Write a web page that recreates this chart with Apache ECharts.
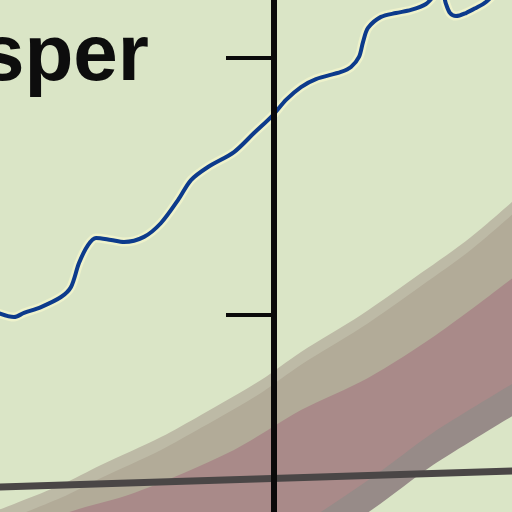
<!DOCTYPE html>
<html>
<head>
<meta charset="utf-8">
<script src="https://cdn.jsdelivr.net/npm/echarts@6.0.0/dist/echarts.min.js"></script>
<style>
  html, body { margin: 0; padding: 0; background: #dae5c6; }
  #main { width: 512px; height: 512px; }
</style>
</head>
<body>
<div id="main"></div>
<script>
// values: x = distance from the vertical axis, y on the axis scale (ticks at 10 and 20)
var yTicks = [10, 20];

// blue line
var blueLine = [
  [-276, 10.08], [-260, 9.92], [-250, 10.08], [-233, 10.31], [-213, 10.70], [-203, 11.09],
  [-195, 12.02], [-186, 12.72], [-178, 13.00], [-163, 12.92], [-150, 12.84], [-130, 13.04],
  [-113, 13.58], [-96, 14.47], [-83, 15.25], [-66, 15.76], [-40, 16.34], [-20, 17.08],
  [-1, 17.78], [12, 18.37], [27, 18.87], [42, 19.18], [67, 19.46], [77, 19.65],
  [85, 20.04], [89, 20.62], [94, 21.17], [107, 21.60], [122, 21.75], [137, 21.87],
  [152, 22.10], [162, 22.49], [168, 22.56], [172, 22.10], [176, 21.75], [182, 21.63],
  [192, 21.75], [202, 21.95], [212, 22.18], [222, 22.57]
];

// band: upper edge, inner tan edge, pink core, lower grey fringe, lower edge
var bandUpper = [
  [-276, 2.41], [-213, 3.39], [-173, 4.16], [-113, 5.25], [-73, 6.11], [-13, 7.47],
  [27, 8.56], [87, 10.00], [147, 11.63], [197, 13.04], [240, 14.47]
];
var bandTan = [
  [-276, 1.91], [-213, 2.89], [-173, 3.66], [-113, 4.75], [-73, 5.61], [-13, 6.97],
  [27, 8.06], [87, 9.50], [147, 11.13], [197, 12.54], [240, 13.97]
];
var bandPink = [
  [-276, 1.05], [-213, 2.22], [-140, 3.07], [-40, 4.75], [27, 6.30], [94, 7.55],
  [162, 9.22], [240, 11.48]
];
var bandFringe = [
  [-276, -5.98], [-73, -0.77], [99, 3.71], [159, 5.42], [240, 7.36]
];
var bandLower = [
  [-276, -7.24], [-73, -2.02], [99, 2.45], [159, 4.16], [240, 6.11]
];

// dark horizontal reference line
var baseLine = [[-276, 3.31], [240, 3.93]];

var myChart = echarts.init(document.getElementById('main'));

function bandLayer(data, color) {
  return {
    type: 'line',
    data: data,
    smooth: 0.3,
    showSymbol: false,
    silent: true,
    lineStyle: { width: 0 },
    areaStyle: { color: color, opacity: 1, origin: 'start' }
  };
}

option = {
  backgroundColor: '#dae5c6',
  animation: false,
  grid: { left: 0, right: 0, top: 0, bottom: 0, outerBoundsMode: 'none' },
  xAxis: {
    type: 'value',
    min: -274,
    max: 238,
    show: false
  },
  yAxis: {
    type: 'value',
    min: 2.335,
    max: 22.257,
    z: 10,
    axisLine: { show: true, onZero: true, lineStyle: { color: '#0a0a0a', width: 6 } },
    axisTick: {
      show: true,
      customValues: yTicks,
      length: 48,
      lineStyle: { color: '#0a0a0a', width: 4 }
    },
    axisLabel: { show: false },
    splitLine: { show: false }
  },
  graphic: [{
    type: 'text',
    x: -20,
    y: 58,
    z: 20,
    style: {
      text: 'sper',
      font: 'bold 80px "Liberation Sans", Arial, sans-serif',
      fill: '#0d0d0d',
      textVerticalAlign: 'middle'
    }
  }],
  series: [
    bandLayer(bandUpper, '#bdbaa6'),
    bandLayer(bandTan, '#b2ab98'),
    bandLayer(bandPink, '#a98a89'),
    bandLayer(bandFringe, '#978b88'),
    bandLayer(bandLower, '#dae5c6'),
    {
      type: 'line',
      data: baseLine,
      showSymbol: false,
      silent: true,
      lineStyle: { color: '#4a4646', width: 7 }
    },
    {
      type: 'line',
      data: blueLine,
      smooth: 0.3,
      showSymbol: false,
      silent: true,
      lineStyle: { color: '#eef2cb', width: 9 }
    },
    {
      type: 'line',
      data: blueLine,
      smooth: 0.3,
      showSymbol: false,
      silent: true,
      lineStyle: { color: '#0d3b8c', width: 4 }
    }
  ]
};
myChart.setOption(option);
</script>
</body>
</html>
